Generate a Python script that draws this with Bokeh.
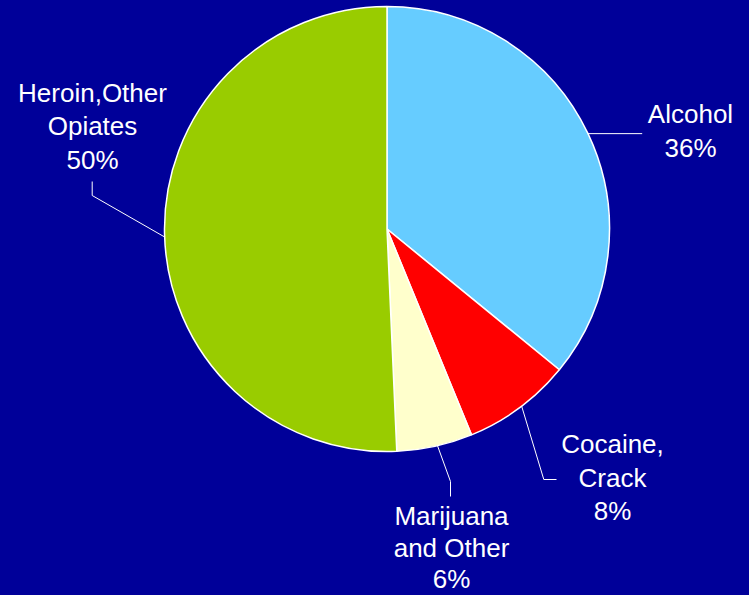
import math
from bokeh.plotting import figure
from bokeh.models import Range1d, ColumnDataSource
from bokeh.embed import file_html
from bokeh.resources import INLINE
from bokeh.core.properties import value

# ---- data ----
categories = ["Alcohol", "Cocaine, Crack", "Marijuana and Other", "Heroin,Other Opiates"]
shares = [35.9, 7.9, 5.5, 50.7]
pct_labels = ["36%", "8%", "6%", "50%"]
name_lines = [["Alcohol"], ["Cocaine,", "Crack"], ["Marijuana", "and Other"], ["Heroin,Other", "Opiates"]]
colors = ["#66CCFF", "#FF0000", "#FFFFCC", "#99CC00"]

# ---- layout (page pixel coordinates) ----
W, H = 749, 595
BG = "#000099"
cx, cy, r = 386.5, 228.5, 222.5
label_x = [690, 612, 451, 92]
label_first_baseline = [123, 453, 525, 101.5]
label_spacing = [34, 33.5, 31.5, 33.7]
baseline_correction = -9.5   # renderer places alphabetic baseline lower than requested
attach_offset_deg = [0.0, -0.7, -0.7, -0.8]
leader_knees = [
    [(641.7, 131.7)],
    [(543.3, 479), (556, 479)],
    [(450, 481), (450, 496)],
    [(91.7, 195), (91.7, 181)],
]

def fy(y):
    return H - y

total = sum(shares)
starts, ends, mids = [], [], []
cum = 0.0
for s in shares:
    a0 = cum / total * 360.0
    cum += s
    a1 = cum / total * 360.0
    starts.append(a0)
    ends.append(a1)
    mids.append((a0 + a1) / 2)

p = figure(width=W, height=H, output_backend="svg", toolbar_location=None,
           x_range=Range1d(0, W), y_range=Range1d(0, H),
           x_axis_type=None, y_axis_type=None, min_border=0,
           background_fill_color=BG, border_fill_color=BG, outline_line_color=None)
p.grid.visible = False

src = ColumnDataSource(dict(
    start=[math.radians(90 - a) for a in starts],
    end=[math.radians(90 - a) for a in ends],
    color=colors,
))
p.wedge(x=cx, y=fy(cy), radius=r, start_angle="start", end_angle="end", direction="clock",
        fill_color="color", line_color="white", line_width=1.5, source=src)

# leader lines
xs, ys = [], []
for i, m in enumerate(mids):
    a = math.radians(m + attach_offset_deg[i])
    sx = cx + r * math.sin(a)
    sy = cy - r * math.cos(a)
    px = [sx] + [k[0] for k in leader_knees[i]]
    py = [fy(sy)] + [fy(k[1]) for k in leader_knees[i]]
    if i == 0:
        py[1] = py[0]
    xs.append(px)
    ys.append(py)
p.multi_line(xs=xs, ys=ys, line_color="white", line_width=1)

# labels
tx, ty, tt = [], [], []
for i in range(len(categories)):
    lines = name_lines[i] + [pct_labels[i]]
    for j, t in enumerate(lines):
        tx.append(label_x[i])
        ty.append(fy(label_first_baseline[i] + j * label_spacing[i] + baseline_correction))
        tt.append(t)
p.text(x=tx, y=ty, text=tt, text_font=value("Liberation Sans"), text_font_size="26px",
       text_color="white", text_align="center", text_baseline="alphabetic")

template = "{% block postamble %}<style>html, body { background: #000099; margin: 0; padding: 0; overflow: hidden; }</style>{% endblock %}"
open("out.html", "w").write(file_html(p, INLINE, template=template))
